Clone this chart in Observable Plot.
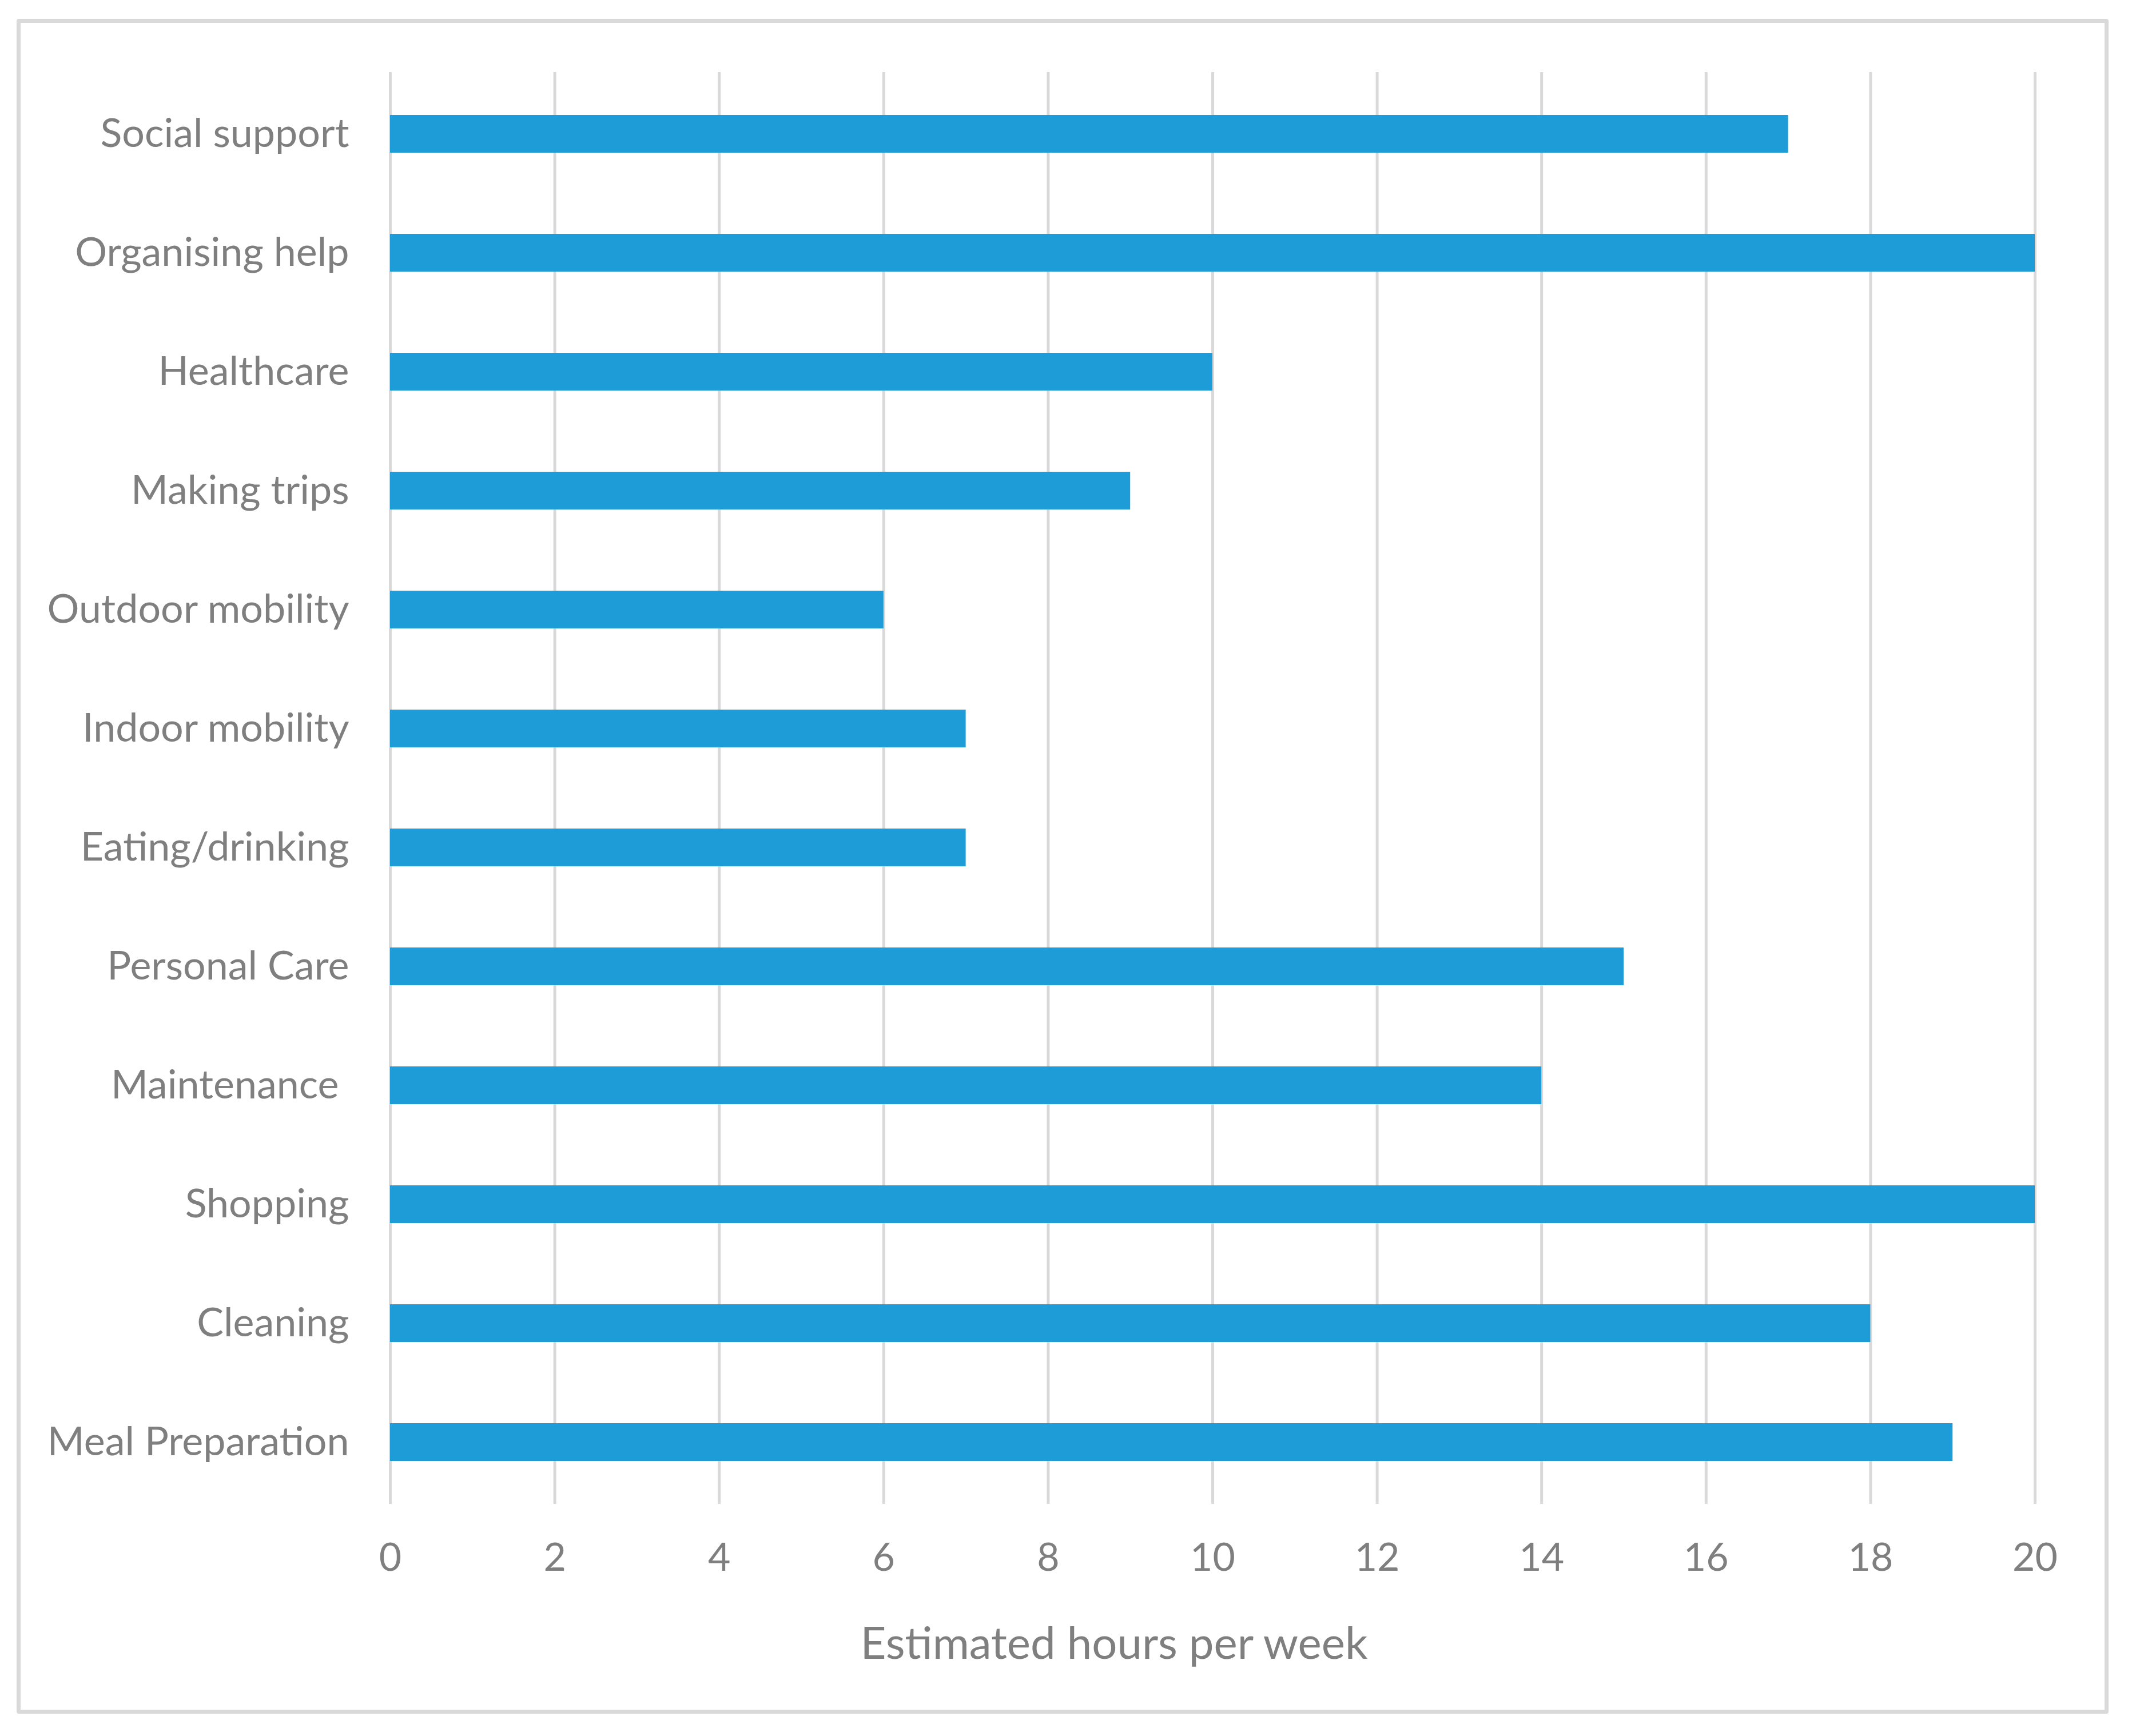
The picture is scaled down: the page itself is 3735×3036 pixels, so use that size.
<!DOCTYPE html>
<html>
<head>
<meta charset="utf-8">
<script src="https://cdn.jsdelivr.net/npm/d3@7"></script>
<script src="https://cdn.jsdelivr.net/npm/@observablehq/plot@0.6"></script>
<style>
  html, body { margin: 0; padding: 0; background: #fff; }
  body { position: relative; width: 3735px; height: 3036px; overflow: hidden; font-family: Lato, "Open Sans", sans-serif; }
  #frame { position: absolute; left: 29px; top: 33px; width: 3658px; height: 2964px; box-sizing: border-box; border: 7px solid #d9d9d9; border-radius: 4px; pointer-events: none; }
  #chart { position: absolute; left: 0; top: 0; }
  #xtitle { position: absolute; left: 0; top: 2824px; width: 3896px; text-align: center; font-size: 78px; color: #7f7f7f; font-family: Lato, sans-serif; }
</style>
</head>
<body>
<div id="chart"></div>
<div id="xtitle"></div>
<div id="frame"></div>
<script>
const categories = ["Social support", "Organising help", "Healthcare", "Making trips", "Outdoor mobility", "Indoor mobility", "Eating/drinking", "Personal Care", "Maintenance\u00a0", "Shopping", "Cleaning", "Meal Preparation"];
const hours = [17, 20, 10, 9, 6, 7, 7, 15, 14, 20, 18, 19];
const xTicks = [0, 2, 4, 6, 8, 10, 12, 14, 16, 18, 20];
const xTitle = "Estimated hours per week";

const data = categories.map((c, i) => ({category: c, hours: hours[i]}));

const plot = Plot.plot({
  width: 3735,
  height: 2800,
  marginLeft: 682,
  marginRight: 177,
  marginTop: 126,
  marginBottom: 170,
  style: {fontFamily: "Lato, sans-serif", background: "transparent", color: "#7f7f7f"},
  x: {domain: [0, 20], ticks: xTicks},
  y: {domain: categories, paddingInner: 0.684, paddingOuter: 0.342},
  marks: [
    Plot.gridX(xTicks, {stroke: "#d9d9d9", strokeWidth: 5, strokeOpacity: 1}),
    Plot.barX(data, {x: "hours", y: "category", fill: "#1d9cd8"}),
    Plot.axisX({ticks: xTicks, tickSize: 0, tickPadding: 68, fontSize: 68, fill: "#7f7f7f", label: null}),
    Plot.axisY({tickSize: 0, tickPadding: 72, fontSize: 70, fill: "#7f7f7f", label: null})
  ]
});
document.getElementById("chart").appendChild(plot);
document.getElementById("xtitle").textContent = xTitle;
</script>
</body>
</html>
